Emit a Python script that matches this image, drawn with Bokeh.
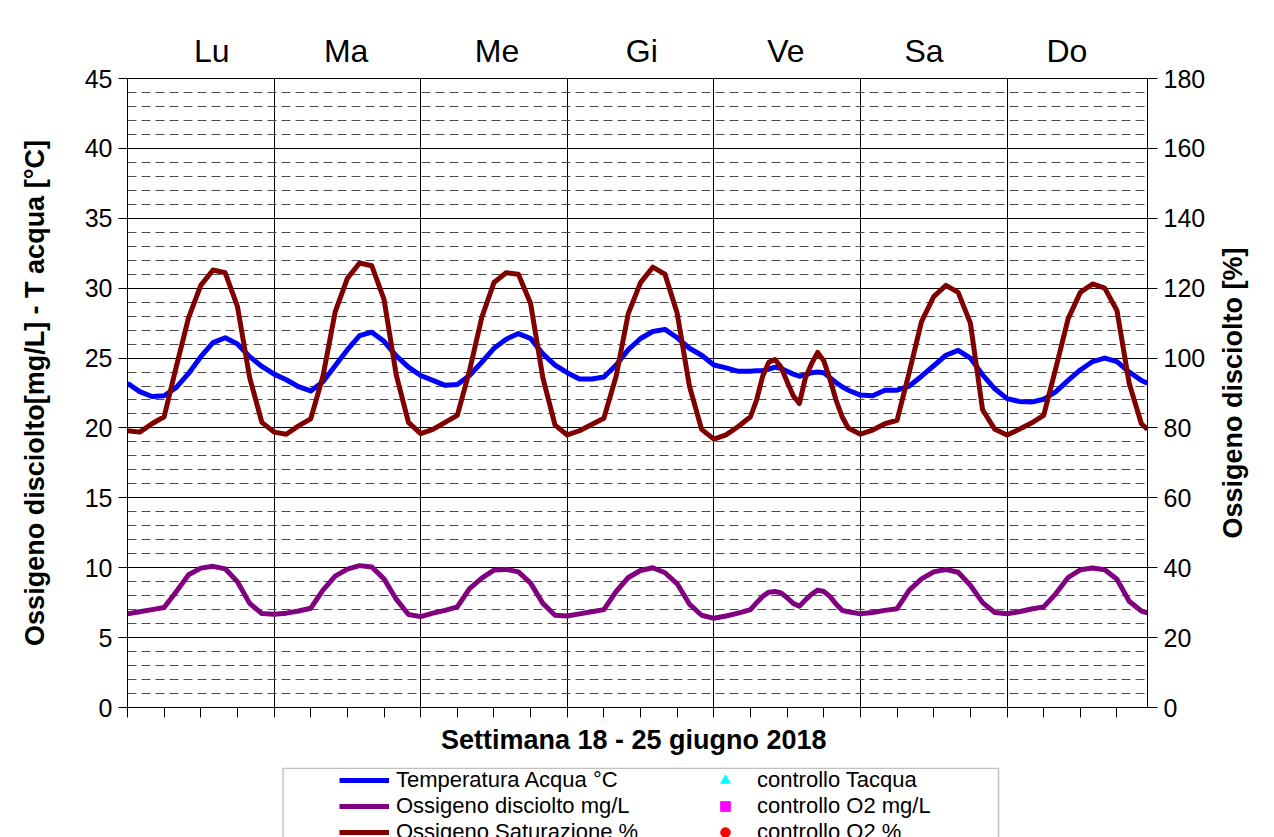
from bokeh.plotting import figure
from bokeh.layouts import column, row
from bokeh.models import (Range1d, LinearAxis, FixedTicker, SingleIntervalTicker,
                          Legend, LegendItem, BoxAnnotation, Title)
from bokeh.embed import file_html
from bokeh.resources import INLINE

# ---------------- data (hours from Monday 00:00) ----------------
hours = list(range(0, 101, 2)) + list(range(102, 119)) + list(range(120, 167, 2)) + [167]

temp_acqua = [
    23.2, 22.6, 22.25, 22.3, 22.9, 23.9, 25.1, 26.1, 26.45, 26.0, 25.1, 24.4,
    23.85, 23.45, 22.95, 22.65, 23.3, 24.45, 25.6, 26.6, 26.85, 26.2, 25.15, 24.35,
    23.75, 23.4, 23.05, 23.1, 23.75, 24.7, 25.7, 26.35, 26.75, 26.4, 25.3, 24.5,
    23.95, 23.5, 23.5, 23.65, 24.5, 25.6, 26.4, 26.9, 27.05, 26.45, 25.7, 25.2,
    24.5, 24.3, 24.05, 24.05, 24.1, 24.1, 24.2, 24.35, 24.25, 24.05, 23.85, 23.7,
    23.8, 23.95, 24.0, 23.95, 23.6, 23.25, 22.95, 22.7,
    22.35, 22.3, 22.7, 22.7, 23.0, 23.7, 24.45, 25.2, 25.55, 25.0, 23.8, 22.8,
    22.1, 21.9, 21.85, 22.05, 22.6, 23.4, 24.15, 24.75, 25.0, 24.75, 24.0, 23.4, 23.2,
]

ossigeno_mgl = [
    6.7, 6.85, 7.0, 7.15, 8.3, 9.5, 9.97, 10.1, 9.92, 9.0, 7.45, 6.72,
    6.67, 6.75, 6.9, 7.1, 8.4, 9.4, 9.9, 10.15, 10.05, 9.2, 7.75, 6.65,
    6.5, 6.75, 6.95, 7.2, 8.5, 9.25, 9.83, 9.88, 9.7, 8.9, 7.45, 6.6,
    6.55, 6.7, 6.85, 7.0, 8.3, 9.3, 9.8, 10.0, 9.64, 8.85, 7.4, 6.6,
    6.38, 6.55, 6.75, 7.0, 7.5, 7.95, 8.25, 8.3, 8.2, 7.85, 7.45, 7.25,
    7.7, 8.1, 8.4, 8.3, 7.95, 7.4, 6.95, 6.85,
    6.7, 6.8, 6.95, 7.07, 8.4, 9.2, 9.7, 9.87, 9.68, 8.75, 7.5, 6.8,
    6.71, 6.85, 7.05, 7.2, 8.15, 9.3, 9.85, 9.98, 9.85, 9.17, 7.6, 6.9, 6.78,
]

saturazione_pct = [
    79.2, 78.8, 81.2, 83.2, 97.6, 111.6, 120.8, 125.2, 124.4, 114.8, 94.4, 81.6,
    78.8, 78.2, 80.6, 82.6, 94.8, 113.2, 122.8, 127.2, 126.4, 116.8, 95.2, 81.6,
    78.4, 79.6, 81.6, 83.6, 96.4, 111.6, 121.6, 124.4, 124.0, 115.6, 94.4, 80.8,
    78.0, 79.2, 81.0, 82.8, 94.8, 112.8, 121.6, 126.0, 124.0, 112.8, 92.0, 79.6,
    76.8, 78.0, 80.4, 83.2, 88.0, 94.8, 98.8, 99.6, 97.4, 93.2, 89.2, 87.0,
    94.4, 98.4, 101.6, 99.2, 94.0, 88.0, 83.2, 80.0,
    78.2, 79.4, 81.2, 82.2, 96.0, 110.4, 117.6, 120.8, 118.8, 110.0, 85.2, 79.6,
    78.0, 79.6, 81.4, 83.6, 97.2, 111.2, 118.8, 121.2, 120.0, 113.6, 92.8, 81.2, 79.6,
]

# control measurements (none in this week)
controllo_tacqua_h, controllo_tacqua = [], []
controllo_o2_h, controllo_o2 = [], []
controllo_o2pct_h, controllo_o2pct = [], []

day_labels = ["Lu", "Ma", "Me", "Gi", "Ve", "Sa", "Do"]
day_label_hours = [13.8, 35.8, 60.5, 84.2, 107.8, 130.4, 153.8]
x_tick_hours = list(range(0, 168, 6))
day_boundaries = [24, 48, 72, 96, 120, 144]

FONT = "Liberation Sans"
C_T, C_O, C_S = "#0000ff", "#800080", "#800000"
LEFT, RIGHT = 127, 127
TOP, BOTTOM = 78, 60
MAIN_RIGHT = 65          # right border of the chart itself (ticks + numbers)
SIDE_W = RIGHT - MAIN_RIGHT

# ---------------- main chart ----------------
p = figure(width=1274 - SIDE_W, height=767, x_range=Range1d(0, 167), y_range=Range1d(0, 45),
           output_backend="svg", toolbar_location=None,
           min_border_left=LEFT, min_border_right=MAIN_RIGHT, min_border_top=TOP,
           min_border_bottom=BOTTOM,
           background_fill_color="white", border_fill_color="white")
p.extra_y_ranges = {"sat": Range1d(0, 180)}
p.outline_line_color = "black"
p.outline_line_width = 1

p.xgrid.ticker = FixedTicker(ticks=day_boundaries)
p.xgrid.grid_line_color = "black"
p.xgrid.grid_line_width = 1
p.ygrid.grid_line_color = "black"
p.ygrid.grid_line_width = 1
p.ygrid.minor_grid_line_color = "#4d4d4d"
p.ygrid.minor_grid_line_dash = "9 5"
p.ygrid.minor_grid_line_width = 1

xa = p.xaxis[0]
xa.ticker = FixedTicker(ticks=x_tick_hours)
xa.major_label_overrides = {t: "" for t in x_tick_hours}
xa.major_label_standoff = 0
xa.major_tick_out = 10
xa.major_tick_in = 0
xa.minor_tick_line_color = None
xa.axis_line_color = "black"
xa.major_tick_line_color = "black"
xa.axis_label = "Settimana 18 -  25 giugno 2018"
xa.axis_label_text_font = FONT
xa.axis_label_text_font_style = "bold"
xa.axis_label_text_font_size = "27px"
xa.axis_label_text_color = "black"
xa.axis_label_standoff = 7

ya = p.yaxis[0]
ya.ticker = SingleIntervalTicker(interval=5, num_minor_ticks=5)
ya.minor_tick_line_color = None
ya.major_tick_out = 9
ya.major_tick_in = 0
ya.major_label_standoff = 6
ya.major_label_text_font = FONT
ya.major_label_text_font_size = "25px"
ya.major_label_text_color = "black"
ya.axis_line_color = "black"
ya.axis_label = "Ossigeno disciolto[mg/L] - T acqua [°C]"
ya.axis_label_text_font = FONT
ya.axis_label_text_font_style = "bold"
ya.axis_label_text_font_size = "27px"
ya.axis_label_text_color = "black"
ya.axis_label_standoff = 32

yr = LinearAxis(y_range_name="sat",
                ticker=SingleIntervalTicker(interval=20, num_minor_ticks=0))
yr.minor_tick_line_color = None
yr.major_tick_out = 10
yr.major_tick_in = 0
yr.major_label_standoff = 6
yr.major_label_text_font = FONT
yr.major_label_text_font_size = "25px"
yr.major_label_text_color = "black"
yr.axis_line_color = "black"
p.add_layout(yr, "right")

xt = LinearAxis(ticker=FixedTicker(ticks=day_label_hours),
                major_label_overrides={h: d for h, d in zip(day_label_hours, day_labels)})
xt.axis_line_color = None
xt.major_tick_line_color = None
xt.minor_tick_line_color = None
xt.major_label_text_font = FONT
xt.major_label_text_font_size = "32px"
xt.major_label_text_color = "black"
xt.major_label_standoff = 4
p.add_layout(xt, "above")

p.line(hours, temp_acqua, line_color=C_T, line_width=5, line_join="round")
p.line(hours, ossigeno_mgl, line_color=C_O, line_width=5, line_join="round")
p.line(hours, saturazione_pct, line_color=C_S, line_width=5, line_join="round", y_range_name="sat")
p.scatter(controllo_tacqua_h, controllo_tacqua, marker="triangle", size=13, color="#00ffff")
p.scatter(controllo_o2_h, controllo_o2, marker="square", size=12, color="#ff00ff")
p.scatter(controllo_o2pct_h, controllo_o2pct, marker="circle", size=13, color="#ff0000",
          y_range_name="sat")

# ---------------- right-hand title strip (reads bottom-to-top) ----------------
r = figure(width=SIDE_W, height=767, x_range=Range1d(0, 1), y_range=Range1d(0, 1),
           output_backend="svg", toolbar_location=None, x_axis_type=None, y_axis_type=None,
           min_border_left=0, min_border_right=0, min_border_top=TOP, min_border_bottom=BOTTOM,
           background_fill_color="white", border_fill_color="white")
r.grid.visible = False
r.outline_line_color = None
r.add_layout(Title(text="Ossigeno disciolto [%]", align="center", text_font=FONT,
                   text_font_size="27px", text_font_style="bold", text_color="black",
                   standoff=6, offset=0), "left")

# ---------------- legend strip (x data = page pixels) ----------------
q = figure(width=1274, height=70, x_range=Range1d(LEFT, 1274 - RIGHT), y_range=Range1d(70, 0),
           output_backend="svg", toolbar_location=None, x_axis_type=None, y_axis_type=None,
           min_border_left=LEFT, min_border_right=RIGHT, min_border_top=0, min_border_bottom=0,
           background_fill_color="white", border_fill_color="white")
q.grid.visible = False
q.outline_line_color = None
q.extra_x_ranges = {"off": Range1d(5000, 5001)}
q.extra_y_ranges = {"sat": Range1d(0, 180)}

lt = q.line(hours, temp_acqua, line_color=C_T, line_width=5, x_range_name="off")
lo = q.line(hours, ossigeno_mgl, line_color=C_O, line_width=5, x_range_name="off")
ls = q.line(hours, saturazione_pct, line_color=C_S, line_width=5, x_range_name="off",
            y_range_name="sat")
mt = q.scatter(hours, temp_acqua, marker="triangle", size=13, color="#00ffff", x_range_name="off")
mo = q.scatter(hours, ossigeno_mgl, marker="square", size=12, color="#ff00ff", x_range_name="off")
ms = q.scatter(hours, saturazione_pct, marker="circle", size=13, color="#ff0000", x_range_name="off",
               y_range_name="sat")

q.add_layout(BoxAnnotation(left=282.5, right=998, top=0.75, bottom=200,
                           fill_alpha=0, line_color="#333333", line_width=1.5))

legend = Legend(items=[LegendItem(label="Temperatura Acqua °C", renderers=[lt]),
                       LegendItem(label="Ossigeno disciolto mg/L", renderers=[lo]),
                       LegendItem(label="Ossigeno Saturazione %", renderers=[ls]),
                       LegendItem(label="controllo Tacqua", renderers=[mt]),
                       LegendItem(label="controllo O2 mg/L", renderers=[mo]),
                       LegendItem(label="controllo O2 %", renderers=[ms])],
                location=(339 - LEFT, -8), orientation="vertical", nrows=3,
                padding=0, margin=0, spacing=0, glyph_width=50, glyph_height=24,
                label_height=24, label_width=304, label_standoff=7,
                label_text_font=FONT, label_text_font_size="22px", label_text_color="black",
                border_line_color=None, background_fill_alpha=0)
q.add_layout(legend)

layout = column(row(p, r, spacing=0), q, spacing=0)
open("out.html", "w").write(file_html(layout, INLINE))
